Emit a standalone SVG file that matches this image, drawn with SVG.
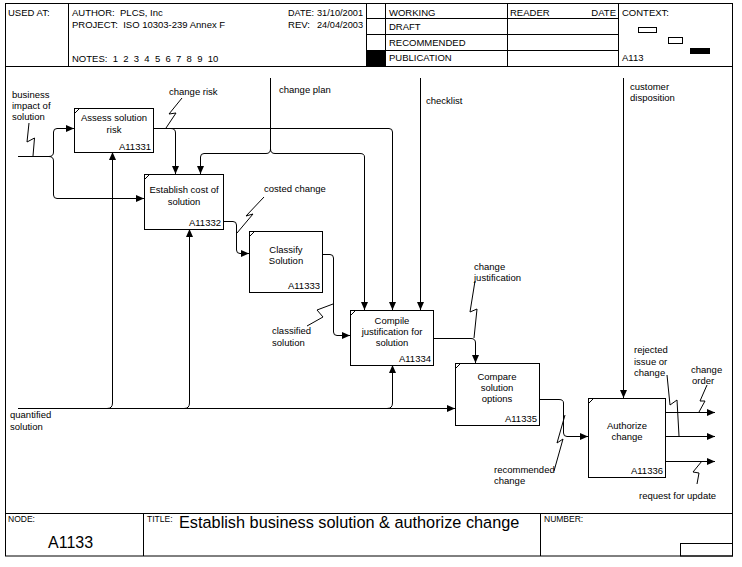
<svg xmlns="http://www.w3.org/2000/svg" width="742" height="567" viewBox="0 0 742 567">
<style>
text{font-family:"Liberation Sans",Arial,sans-serif;font-size:9.5px;fill:#000;white-space:pre}
.frame{fill:none;stroke:#000;stroke-width:1}
.box{fill:#fff;stroke:#000;stroke-width:1}
.tick{stroke:#000;stroke-width:1;fill:none}
.c{fill:none;stroke:#000;stroke-width:1}
.a{fill:none;stroke:#000;stroke-width:1;marker-end:url(#arr)}
.sq{fill:none;stroke:#000;stroke-width:1}
.mid{text-anchor:middle}
.end{text-anchor:end}
.sm{font-size:8.5px}
</style>
<defs>
<marker id="arr" markerWidth="8" markerHeight="7" refX="8" refY="3.5" orient="auto" markerUnits="userSpaceOnUse">
<path d="M0,0 L8,3.5 L0,7 z" fill="#000"/>
</marker>
</defs>
<rect width="742" height="567" fill="#fff"/>

<g id="frame">
<rect class="frame" x="5.5" y="3.5" width="727" height="552.5"/>
<line class="frame" x1="5.5" y1="66.5" x2="732.5" y2="66.5"/>
<line class="frame" x1="68.5" y1="3.5" x2="68.5" y2="66.5"/>
<line class="frame" x1="366.5" y1="3.5" x2="366.5" y2="66.5"/>
<line class="frame" x1="385.5" y1="3.5" x2="385.5" y2="66.5"/>
<line class="frame" x1="507.5" y1="3.5" x2="507.5" y2="66.5"/>
<line class="frame" x1="618.5" y1="3.5" x2="618.5" y2="66.5"/>
<line class="frame" x1="366.5" y1="18.5" x2="618.5" y2="18.5"/>
<line class="frame" x1="366.5" y1="34.5" x2="618.5" y2="34.5"/>
<line class="frame" x1="366.5" y1="50.5" x2="618.5" y2="50.5"/>
<rect x="367" y="51" width="18" height="15" fill="#000"/>
<text x="8" y="16">USED AT:</text>
<text x="72" y="16">AUTHOR:  PLCS, Inc</text>
<text x="288" y="16" textLength="26" lengthAdjust="spacingAndGlyphs">DATE:</text>
<text x="317" y="16" textLength="46" lengthAdjust="spacingAndGlyphs">31/10/2001</text>
<text x="72" y="28">PROJECT:  ISO 10303-239 Annex F</text>
<text x="288" y="28" textLength="22" lengthAdjust="spacingAndGlyphs">REV:</text>
<text x="317" y="28" textLength="46" lengthAdjust="spacingAndGlyphs">24/04/2003</text>
<text x="72" y="62">NOTES:  1  2  3  4  5  6  7  8  9  10</text>
<text x="389" y="16">WORKING</text>
<text x="389" y="30">DRAFT</text>
<text x="389" y="46">RECOMMENDED</text>
<text x="389" y="61">PUBLICATION</text>
<text x="510" y="16">READER</text>
<text x="616" y="16" class="end">DATE</text>
<text x="622" y="16">CONTEXT:</text>
<rect class="frame" x="638.5" y="27.5" width="18" height="5"/>
<rect class="frame" x="668.5" y="37.5" width="14" height="6"/>
<rect x="690" y="48" width="20" height="6" fill="#000"/>
<text x="622" y="61">A113</text>
<line class="frame" x1="5.5" y1="513.5" x2="732.5" y2="513.5"/>
<line class="frame" x1="143.5" y1="513.5" x2="143.5" y2="556"/>
<line class="frame" x1="540.5" y1="513.5" x2="540.5" y2="556"/>
<rect class="frame" x="680.5" y="543.5" width="52" height="12.5"/>
<text x="8" y="522" class="sm">NODE:</text>
<text x="48" y="548" style="font-size:16px">A1133</text>
<text x="147" y="522" class="sm">TITLE:</text>
<text x="179" y="528" style="font-size:16.3px">Establish business solution &amp; authorize change</text>
<text x="544" y="522" class="sm">NUMBER:</text>
</g>

<g id="connectors">
<!-- business impact of solution -->
<path class="c" d="M18,156.5 H49 Q53.5,156.5 53.5,152 V132 Q53.5,128.5 57,128.5 H66"/>
<path class="a" d="M60,128.5 H74"/>
<path class="a" d="M49,156.5 Q53.5,156.5 53.5,161 V195 Q53.5,198.5 57,198.5 H144"/>
<!-- change risk -->
<path class="a" d="M153,128.5 H389 Q392.5,128.5 392.5,132 V310"/>
<path class="a" d="M171,128.5 Q175.5,128.5 175.5,133 V174"/>
<!-- change plan -->
<path class="a" d="M270.5,78 V149 Q270.5,153.5 266,153.5 H204 Q200.5,153.5 200.5,157 V174"/>
<path class="a" d="M270.5,149 Q270.5,153.5 275,153.5 H360 Q364.5,153.5 364.5,157 V310"/>
<!-- checklist -->
<path class="a" d="M420.5,78 V310"/>
<!-- customer disposition -->
<path class="a" d="M623.5,78 V398"/>
<!-- quantified solution -->
<path class="a" d="M18,408.5 H455"/>
<path class="a" d="M107,408.5 Q112.5,408.5 112.5,403 V152"/>
<path class="a" d="M184,408.5 Q189.5,408.5 189.5,403 V229"/>
<path class="a" d="M387,408.5 Q392.5,408.5 392.5,403 V365"/>
<!-- costed change -->
<path class="a" d="M223,221.5 H233 Q236.5,221.5 236.5,225 V250 Q236.5,253.5 240,253.5 H249"/>
<!-- classified solution -->
<path class="a" d="M322,254.5 H330 Q333.5,254.5 333.5,258 V332 Q333.5,335.5 337,335.5 H350"/>
<!-- change justification -->
<path class="a" d="M433,338.5 H471 Q475.5,338.5 475.5,343 V363"/>
<!-- recommended change -->
<path class="a" d="M539,399.5 H559 Q563.5,399.5 563.5,403 V433 Q563.5,436.5 567,436.5 H588"/>
<!-- outputs of A11336 -->
<path class="a" d="M665,412.5 H715"/>
<path class="a" d="M665,436.5 H715"/>
<path class="a" d="M665,461.5 H715"/>

<!-- squiggles -->
<polyline class="sq" points="33,156 34.5,138 27,142 29,123"/>
<polyline class="sq" points="166,128 176,113 169,114 182,98"/>
<polyline class="sq" points="237,233 253,214 246,216 264,197"/>
<polyline class="sq" points="333,304 317,310 323,317 307,326"/>
<polyline class="sq" points="474,338 477,309 470,312 475,281"/>
<polyline class="sq" points="565,415 557,443 563,439 554,471"/>
<polyline class="sq" points="667,375 670,405 677,400 679,436"/>
<polyline class="sq" points="699,412 705,401 700,401 707,385"/>
<polyline class="sq" points="702,461 693,472 699,473 697,484"/>

<!-- labels -->
<text x="12" y="98">business</text>
<text x="12" y="109">impact of</text>
<text x="12" y="120">solution</text>
<text x="169" y="95">change risk</text>
<text x="279" y="93">change plan</text>
<text x="426" y="104">checklist</text>
<text x="630" y="90">customer</text>
<text x="630" y="101">disposition</text>
<text x="264" y="192">costed change</text>
<text x="272" y="334">classified</text>
<text x="272" y="346">solution</text>
<text x="474" y="270">change</text>
<text x="474" y="281">justification</text>
<text x="634" y="353">rejected</text>
<text x="634" y="365">issue or</text>
<text x="634" y="376">change</text>
<text x="691" y="373">change</text>
<text x="692" y="384">order</text>
<text x="494" y="473">recommended</text>
<text x="494" y="484">change</text>
<text x="639" y="499">request for update</text>
<text x="10" y="418">quantified</text>
<text x="10" y="430">solution</text>
</g>

<g id="A11331">
<rect class="box" x="74.5" y="108.5" width="79" height="44"/>
<path class="tick" d="M74.5,113.5 L79.5,108.5"/>
<text x="114" y="121" class="mid">Assess solution</text>
<text x="114" y="133" class="mid">risk</text>
<text x="151" y="150" class="end">A11331</text>
</g>
<g id="A11332">
<rect class="box" x="144.5" y="174.5" width="79" height="55"/>
<path class="tick" d="M144.5,179.5 L149.5,174.5"/>
<text x="184" y="193" class="mid">Establish cost of</text>
<text x="184" y="205" class="mid">solution</text>
<text x="221" y="226" class="end">A11332</text>
</g>
<g id="A11333">
<rect class="box" x="249.5" y="231.5" width="73" height="61"/>
<path class="tick" d="M249.5,236.5 L254.5,231.5"/>
<text x="286" y="253" class="mid">Classify</text>
<text x="286" y="264" class="mid">Solution</text>
<text x="320" y="289" class="end">A11333</text>
</g>
<g id="A11334">
<rect class="box" x="350.5" y="310.5" width="83" height="55"/>
<path class="tick" d="M350.5,315.5 L355.5,310.5"/>
<text x="392" y="324" class="mid">Compile</text>
<text x="392" y="335" class="mid">justification for</text>
<text x="392" y="346" class="mid">solution</text>
<text x="431" y="362" class="end">A11334</text>
</g>
<g id="A11335">
<rect class="box" x="455.5" y="363.5" width="84" height="62"/>
<path class="tick" d="M455.5,368.5 L460.5,363.5"/>
<text x="497" y="380" class="mid">Compare</text>
<text x="497" y="391" class="mid">solution</text>
<text x="497" y="402" class="mid">options</text>
<text x="537" y="422" class="end">A11335</text>
</g>
<g id="A11336">
<rect class="box" x="588.5" y="398.5" width="77" height="79"/>
<path class="tick" d="M588.5,403.5 L593.5,398.5"/>
<text x="627" y="429" class="mid">Authorize</text>
<text x="627" y="440" class="mid">change</text>
<text x="663" y="474" class="end">A11336</text>
</g>
</svg>
